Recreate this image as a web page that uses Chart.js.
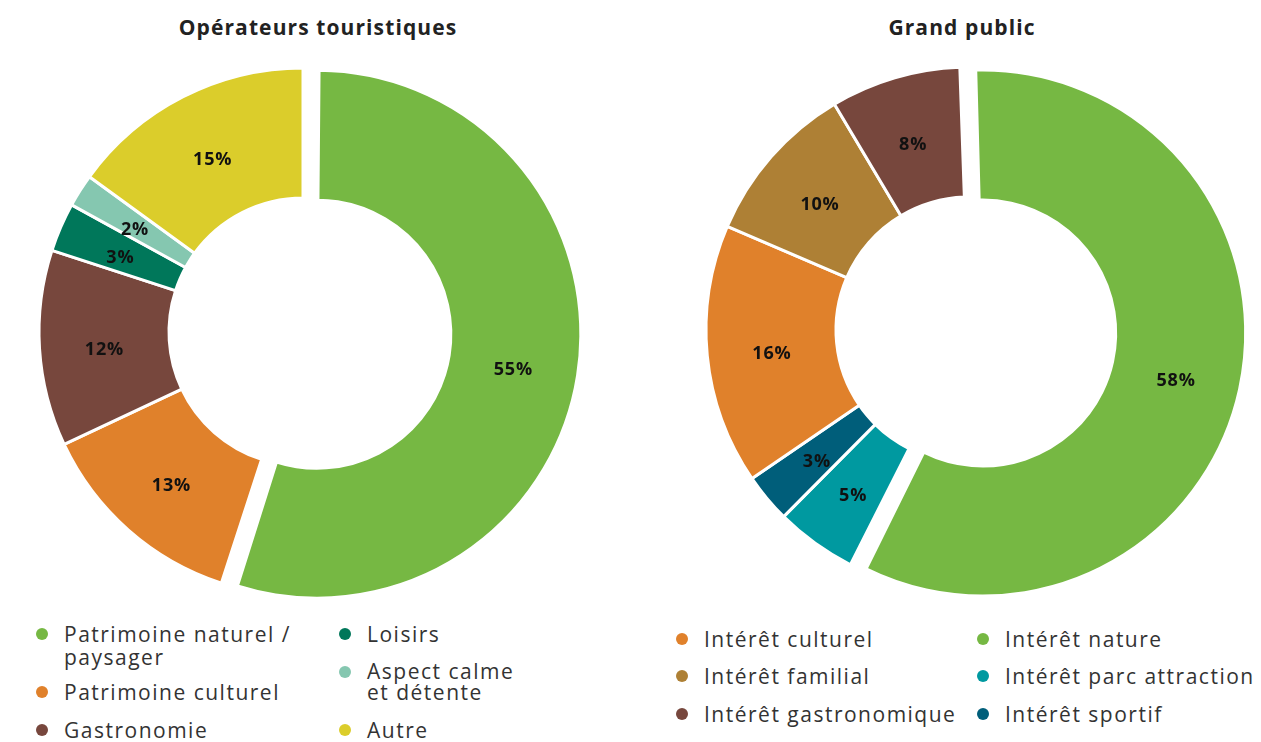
<!DOCTYPE html>
<html><head><meta charset="utf-8">
<script src="https://cdn.jsdelivr.net/npm/chart.js@4"></script>
<style>
body{margin:0;background:#fff;width:1261px;height:742px;overflow:hidden;position:relative;font-family:'Open Sans',sans-serif;}
.title{position:absolute;font-weight:700;font-size:21px;letter-spacing:1.1px;color:#222;transform:translateX(-50%);white-space:nowrap;line-height:24px}
canvas{position:absolute}
.leg{position:absolute;font-size:21px;letter-spacing:1.5px;color:#333;line-height:22px;white-space:nowrap}
.dot{position:absolute;width:12px;height:12px;border-radius:50%;left:-28px;top:5px}
</style></head>
<body>
<div class="title" id="t1" style="left:318px;top:15px"></div>
<div class="title" id="t2" style="left:962px;top:15px"></div>
<canvas id="c1" width="560" height="560" style="left:23px;top:52px"></canvas>
<canvas id="c2" width="560" height="560" style="left:689px;top:50px"></canvas>
<div id="legends"></div>
<script>
// ---- data ----
const leftTitle = 'Opérateurs touristiques';
const leftLabels = [['Patrimoine naturel /', 'paysager'], ['Patrimoine culturel'], ['Gastronomie'], ['Loisirs'], ['Aspect calme', 'et détente'], ['Autre']];
const leftValues = [55, 13, 12, 3, 2, 15];
const leftColors = ['#76B843', '#E0812B', '#77473D', '#00775A', '#85C7B0', '#DBCD2B'];

const rightTitle = 'Grand public';
const rightLabels = [['Intérêt nature'], ['Intérêt parc attraction'], ['Intérêt sportif'], ['Intérêt culturel'], ['Intérêt familial'], ['Intérêt gastronomique']];
const rightValues = [58, 5, 3, 16, 10, 8];
const rightColors = ['#76B843', '#0099A0', '#005E7A', '#E0812B', '#AE8035', '#77473D'];

// ---- layout (legend placement: [index, textX, topY, lineHeight]) ----
const leftLegendPos = [[0, 64, 623, 23], [1, 64, 681, 22], [2, 64, 719, 22], [3, 367, 623, 22], [4, 367, 661, 21], [5, 367, 719, 22]];
const rightLegendPos = [[3, 704, 628, 22], [4, 704, 665, 22], [5, 704, 703, 22], [0, 1005, 628, 22], [1, 1005, 665, 22], [2, 1005, 703, 22]];

document.getElementById('t1').textContent = leftTitle;
document.getElementById('t2').textContent = rightTitle;

function buildLegend(labels, colors, pos) {
  const host = document.getElementById('legends');
  pos.forEach(([i, x, y, lh]) => {
    const d = document.createElement('div');
    d.className = 'leg';
    d.style.left = x + 'px'; d.style.top = y + 'px'; d.style.lineHeight = lh + 'px';
    d.innerHTML = labels[i].join('<br>');
    const dot = document.createElement('span');
    dot.className = 'dot'; dot.style.background = colors[i];
    d.appendChild(dot);
    host.appendChild(d);
  });
}
buildLegend(leftLabels, leftColors, leftLegendPos);
buildLegend(rightLabels, rightColors, rightLegendPos);

function arcFix(arc) {
  const o = (arc.options.offset || 0) / 4;
  const fix = 1 - Math.sin(Math.min(Math.PI, arc.circumference || 0));
  return { o, grow: o * fix };
}

// keep exploded slice at the same radius as the others (only translate it)
const offsetFix = {
  id: 'offsetFix',
  afterDatasetUpdate(chart, args) {
    args.meta.data.forEach(arc => {
      const { grow } = arcFix(arc);
      if (grow) { arc.outerRadius -= grow; arc.innerRadius -= grow; }
    });
  }
};

const pctLabels = {
  id: 'pctLabels',
  afterDatasetsDraw(chart) {
    const ctx = chart.ctx;
    const meta = chart.getDatasetMeta(0);
    const ds = chart.data.datasets[0];
    ctx.save();
    ctx.font = 'bold 18px "Open Sans"';
    if ('letterSpacing' in ctx) ctx.letterSpacing = '0.8px';
    ctx.fillStyle = '#111'; ctx.textAlign = 'center'; ctx.textBaseline = 'middle';
    meta.data.forEach((arc, i) => {
      const p = arc.getProps(['x', 'y', 'startAngle', 'endAngle', 'innerRadius', 'outerRadius'], true);
      const half = (p.startAngle + p.endAngle) / 2;
      const { o, grow } = arcFix(arc);
      const r = (p.innerRadius + p.outerRadius) / 2 + grow + o;
      ctx.fillText(ds.data[i] + '%', p.x + Math.cos(half) * r, p.y + Math.sin(half) * r + 5);
    });
    ctx.restore();
  }
};

function makeChart(id, labels, values, colors, radius, cutout, rotation) {
  new Chart(document.getElementById(id), {
    type: 'doughnut',
    data: {
      labels: labels,
      datasets: [{
        data: values,
        backgroundColor: colors,
        borderColor: '#ffffff',
        borderWidth: 3,
        offset: values.map((v, i) => i === 0 ? 56 : 0)
      }]
    },
    options: {
      responsive: false,
      animation: false,
      devicePixelRatio: 1,
      radius: radius,
      cutout: cutout,
      rotation: rotation,
      layout: { padding: 0 },
      plugins: { legend: { display: false }, tooltip: { enabled: false }, title: { display: false } }
    },
    plugins: [offsetFix, pctLabels]
  });
}
makeChart('c1', leftLabels, leftValues, leftColors, 264, '50.76%', 0);
makeChart('c2', rightLabels, rightValues, rightColors, 263, '50.57%', -2);
</script>
</body></html>
